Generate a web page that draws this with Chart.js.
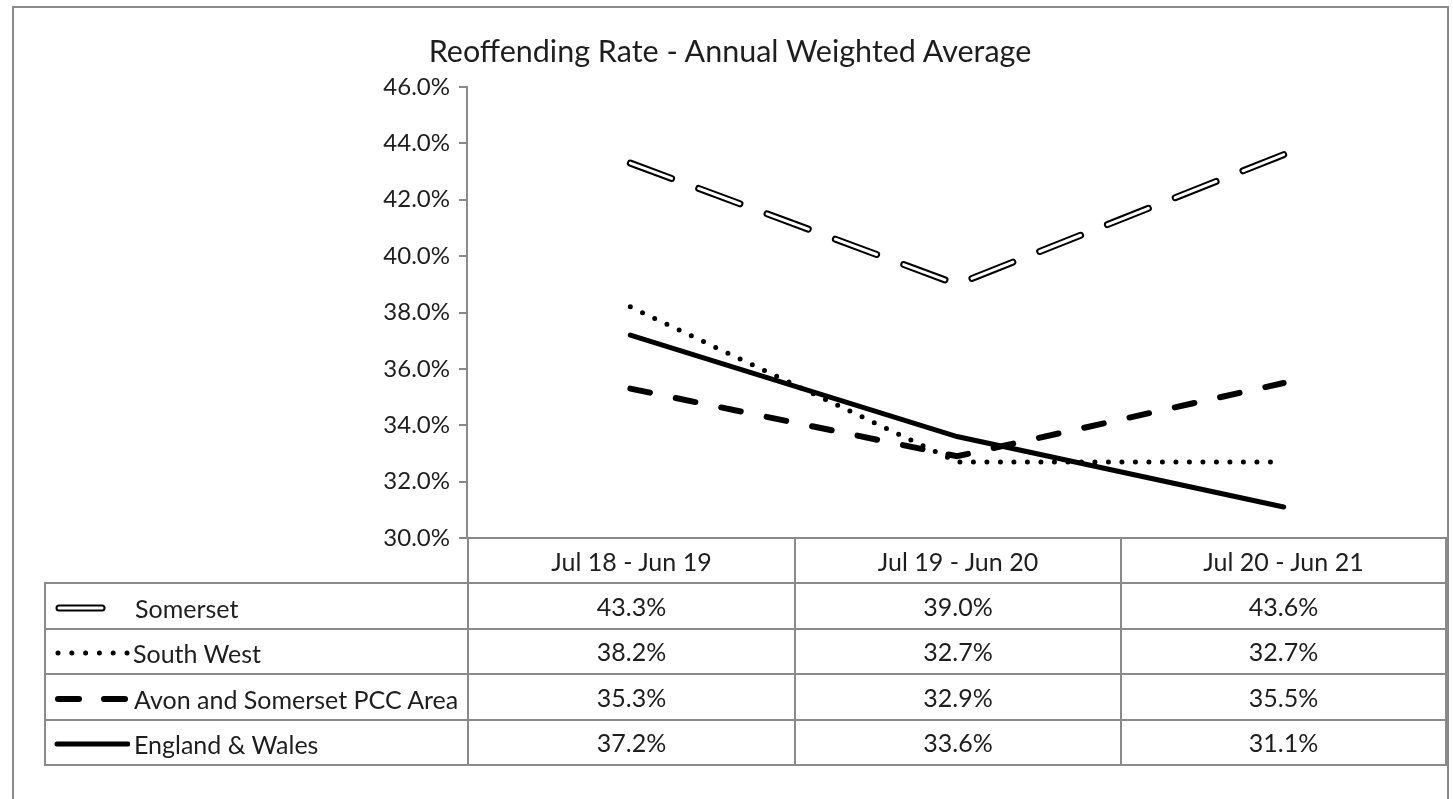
<!DOCTYPE html>
<html>
<head>
<meta charset="utf-8">
<script src="https://cdn.jsdelivr.net/npm/chart.js"></script>
<style>
  html, body { margin:0; padding:0; background:#fff; width:1453px; height:799px; overflow:hidden; }
  body { font-family: Lato, "Open Sans", "Liberation Sans", sans-serif; color:#1e1e1e; }
  #frame { position:absolute; left:12px; top:6px; width:1433px; height:820px; border:2px solid #8a8a8a; border-bottom:none; }
  #title { position:absolute; left:0; width:1460px; top:31px; text-align:center; font-size:30.5px; line-height:38px; }
  #wrap { position:absolute; left:0; top:0; width:1453px; height:799px; }
  #tbl { position:absolute; left:44px; top:537px; border-collapse:collapse; table-layout:fixed; font-size:25px; }
  #tbl td { border:2px solid #8a8a8a; padding:0; text-align:center; white-space:nowrap; overflow:hidden; line-height:28px; }
  #tbl tr.hdr td { height:43px; }
  #tbl tr.row td { height:43.5px; }
  #tbl tr.hdr td.blank { border-top:none; border-left:none; }
  #tbl td.leg { text-align:left; }
  #tbl td.leg svg { vertical-align:middle; margin-left:8px; }
  #tbl td.leg span { vertical-align:middle; }
</style>
</head>
<body>
<div id="frame"></div>
<div id="wrap"><canvas id="c" width="1453" height="799"></canvas></div>
<div id="title">Reoffending Rate - Annual Weighted Average</div>
<table id="tbl"></table>
<script>
// ---- data ----
const categories = ['Jul 18 - Jun 19', 'Jul 19 - Jun 20', 'Jul 20 - Jun 21'];
const seriesNames = ['Somerset', 'South West', 'Avon and Somerset PCC Area', 'England & Wales'];
const somerset = [43.3, 39.0, 43.6];
const southWest = [38.2, 32.7, 32.7];
const avon = [35.3, 32.9, 35.5];
const englandWales = [37.2, 33.6, 31.1];
const yMin = 30, yMax = 46, yStep = 2;

const seriesValues = [somerset, southWest, avon, englandWales];
const fmt = v => v.toFixed(1) + '%';

// ---- chart ----
const ctx = document.getElementById('c').getContext('2d');
new Chart(ctx, {
  type: 'line',
  data: {
    labels: categories,
    datasets: [
      { label: seriesNames[0] + ' outline', data: somerset, borderColor: '#000', borderWidth: 7,
        borderDash: [44, 28.9], borderCapStyle: 'round', pointRadius: 0, tension: 0, order: 5 },
      { label: seriesNames[0], data: somerset, borderColor: '#fff', borderWidth: 3,
        borderDash: [44, 28.9], borderCapStyle: 'round', pointRadius: 0, tension: 0, order: 4 },
      { label: seriesNames[1], data: southWest, borderColor: '#000', borderWidth: 5,
        borderDash: [0, 13.5], borderCapStyle: 'round', pointRadius: 0, tension: 0, order: 3 },
      { label: seriesNames[2], data: avon, borderColor: '#000', borderWidth: 6,
        borderDash: [20, 26.4], borderCapStyle: 'round', pointRadius: 0, tension: 0, order: 2 },
      { label: seriesNames[3], data: englandWales, borderColor: '#000', borderWidth: 5,
        borderCapStyle: 'round', pointRadius: 0, tension: 0, order: 1 }
    ]
  },
  options: {
    responsive: false,
    animation: false,
    devicePixelRatio: 1,
    layout: { padding: { top: 87, bottom: 261, left: 0, right: 6 } },
    plugins: { legend: { display: false }, title: { display: false }, tooltip: { enabled: false } },
    scales: {
      x: {
        type: 'category',
        offset: true,
        ticks: { display: false },
        grid: { display: false },
        border: { display: false },
        afterFit: s => { s.height = 0; }
      },
      y: {
        min: yMin, max: yMax,
        ticks: { stepSize: yStep, callback: v => fmt(v), color: '#1e1e1e', padding: 9,
                 font: { family: 'Lato', size: 24 } },
        grid: { drawOnChartArea: false, drawTicks: true, tickLength: 8, color: '#8a8a8a', lineWidth: 2 },
        border: { display: true, color: '#8a8a8a', width: 2 },
        afterFit: s => { s.width = 467; }
      }
    }
  }
});

// ---- data table ----
const legendStyles = [
  { w: 56, svg: '<line x1="5" y1="9" x2="48" y2="9" stroke="#000" stroke-width="7" stroke-linecap="round"/><line x1="5" y1="9" x2="48" y2="9" stroke="#fff" stroke-width="3" stroke-linecap="round"/>', mr: 25 },
  { w: 76, svg: '<line x1="4" y1="9" x2="74" y2="9" stroke="#000" stroke-width="5" stroke-linecap="round" stroke-dasharray="0 13.8"/>', mr: 3 },
  { w: 76, svg: '<line x1="4" y1="9" x2="74" y2="9" stroke="#000" stroke-width="6" stroke-linecap="round" stroke-dasharray="21 25"/>', mr: 4 },
  { w: 76, svg: '<line x1="3" y1="9" x2="74" y2="9" stroke="#000" stroke-width="5" stroke-linecap="round"/>', mr: 4 }
];
const colW = [423, 327, 326, 325];
const tbl = document.getElementById('tbl');
let html = '<colgroup>' + colW.map(w => '<col style="width:' + w + 'px">').join('') + '</colgroup>';
html += '<tr class="hdr"><td class="blank"></td>' + categories.map(c => '<td>' + c + '</td>').join('') + '</tr>';
seriesNames.forEach((name, i) => {
  const st = legendStyles[i];
  html += '<tr class="row"><td class="leg"><svg width="' + st.w + '" height="18" style="margin-right:' + st.mr + 'px">' + st.svg + '</svg><span>' + name + '</span></td>' +
    seriesValues[i].map(v => '<td>' + fmt(v) + '</td>').join('') + '</tr>';
});
tbl.innerHTML = html;
</script>
</body>
</html>
